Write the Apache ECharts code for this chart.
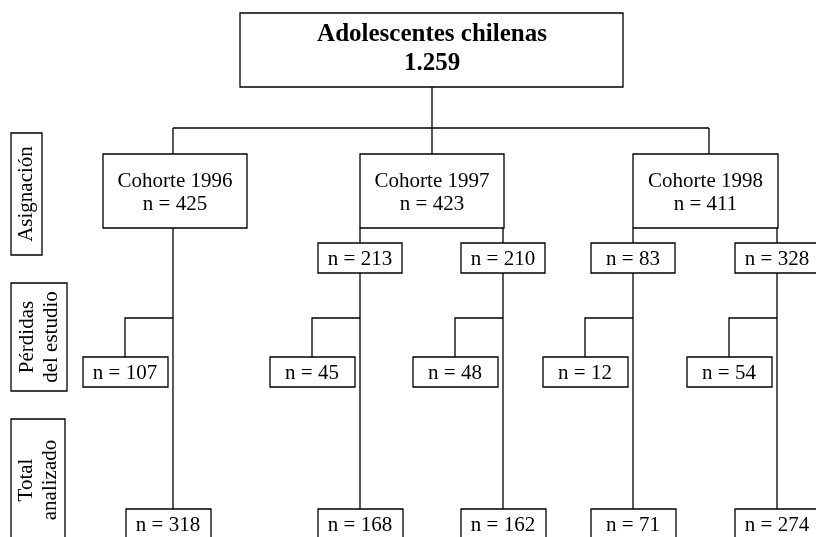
<!DOCTYPE html>
<html>
<head>
<meta charset="utf-8">
<script src="https://cdn.jsdelivr.net/npm/echarts@6/dist/echarts.min.js"></script>
<style>html,body{margin:0;padding:0;background:#fff}#c{width:816px;height:537px}</style>
</head>
<body>
<div id="c"></div>
<script>
// ---- data ----
const titleLines = ['Adolescentes chilenas', '1.259'];
const cohortLabels = ['Cohorte 1996', 'Cohorte 1997', 'Cohorte 1998'];
const cohortN = [425, 423, 411];
const subgroupN = [213, 210, 83, 328];      // subgroups of 1997 and 1998
const subgroupCohort = [1, 1, 2, 2];
const lostN = [107, 45, 48, 12, 54];
const analyzedN = [318, 168, 162, 71, 274];
const stageLabels = [['Asignación'], ['Pérdidas', 'del estudio'], ['Total', 'analizado']];

// ---- layout (pixel space of a hidden 816 x 537 grid) ----
const SERIF = '"Liberation Serif", "Times New Roman", serif';
const F = '21px ' + SERIF;
const FB = 'bold 25px ' + SERIF;
const LW = 1.3;
const topBox = { x0: 240, y0: 13, x1: 623, y1: 87 };
const busY = 128;
const cohortBoxX = [[103, 247], [360, 504], [633, 778]];
const cohortDropX = [173, 432, 709];
const cohortBoxY = [154, 228];
const branchX = [173, 360, 503, 633, 777];
const branchCohort = [0, 1, 1, 2, 2];
const subBoxY = [243, 273];
const boxW = 85;
const lossY = 318, lossBoxY = [357, 387], lossOffset = 48;
const finalBoxY = [509, 539];
const finalShift = [-5, 0, 0, 0, 0];
const stageBoxes = [[11, 42, 133, 255], [11, 67, 283, 391], [11, 65, 419, 541]];
const stageLineGap = 24;

const items = [];
const line = pts => items.push({ kind: 'line', pts });
const box = (x0, y0, x1, y1, texts) => items.push({ kind: 'box', x0, y0, x1, y1, texts });

// connectors
line([[432, topBox.y1], [432, busY]]);
line([[cohortDropX[0], busY], [cohortDropX[2], busY]]);
cohortDropX.forEach(x => line([[x, busY], [x, cohortBoxY[0]]]));
branchX.forEach((x, i) => {
  line([[x, cohortBoxY[1]], [x, finalBoxY[0]]]);
  line([[x, lossY], [x - lossOffset, lossY], [x - lossOffset, lossBoxY[0]]]);
});

// boxes
box(topBox.x0, topBox.y0, topBox.x1, topBox.y1, [
  { s: titleLines[0], x: 432, y: 35, font: FB },
  { s: titleLines[1], x: 432, y: 64, font: FB }
]);
cohortLabels.forEach((lab, i) => {
  const [a, b] = cohortBoxX[i];
  const cx = (a + b) / 2;
  box(a, cohortBoxY[0], b, cohortBoxY[1], [
    { s: lab, x: cx, y: 181, font: F },
    { s: 'n = ' + cohortN[i], x: cx, y: 204, font: F }
  ]);
});
subgroupN.forEach((n, k) => {
  const x = branchX[k + 1];
  box(x - 42, subBoxY[0], x + 42, subBoxY[1], [{ s: 'n = ' + n, x: x, y: (subBoxY[0] + subBoxY[1]) / 2 + 1, font: F }]);
});
lostN.forEach((n, i) => {
  const x = branchX[i] - lossOffset;
  box(x - 42, lossBoxY[0], x + 43, lossBoxY[1], [{ s: 'n = ' + n, x: x, y: (lossBoxY[0] + lossBoxY[1]) / 2 + 1, font: F }]);
});
analyzedN.forEach((n, i) => {
  const x = branchX[i] + finalShift[i];
  box(x - 42, finalBoxY[0], x + 43, finalBoxY[1], [{ s: 'n = ' + n, x: x, y: (finalBoxY[0] + finalBoxY[1]) / 2 + 1, font: F }]);
});
stageLabels.forEach((lines, i) => {
  const [x0, x1, y0, y1] = stageBoxes[i];
  const cx = (x0 + x1) / 2, cy = (y0 + y1) / 2;
  const texts = lines.map((s, j) => ({
    s, x: cx + (j - (lines.length - 1) / 2) * stageLineGap, y: cy, font: F, rot: Math.PI / 2
  }));
  box(x0, y0, x1, y1, texts);
});

function renderItem(params, api) {
  const it = items[params.dataIndex];
  const P = p => api.coord(p);
  if (it.kind === 'line') {
    return { type: 'polyline', shape: { points: it.pts.map(P) }, style: { stroke: '#000', lineWidth: LW, fill: null } };
  }
  const a = P([it.x0, it.y0]), b = P([it.x1, it.y1]);
  const children = [{
    type: 'rect', shape: { x: a[0], y: a[1], width: b[0] - a[0], height: b[1] - a[1] },
    style: { fill: '#fff', stroke: '#000', lineWidth: LW }
  }];
  it.texts.forEach(t => {
    const c = P([t.x, t.y]);
    children.push({
      type: 'text', x: c[0], y: c[1], rotation: t.rot || 0,
      style: { text: t.s, font: t.font, fill: '#000', align: 'center', verticalAlign: 'middle' }
    });
  });
  return { type: 'group', children };
}

const chart = echarts.init(document.getElementById('c'));
chart.setOption({
  animation: false,
  backgroundColor: '#fff',
  grid: { left: 0, right: 0, top: 0, bottom: 0 },
  xAxis: { type: 'value', min: 0, max: 816, show: false },
  yAxis: { type: 'value', min: 0, max: 537, inverse: true, show: false },
  series: [{
    type: 'custom', coordinateSystem: 'cartesian2d', silent: true, clip: false,
    data: items.map((_, i) => [i, 0]),
    renderItem
  }]
});
</script>
</body>
</html>
